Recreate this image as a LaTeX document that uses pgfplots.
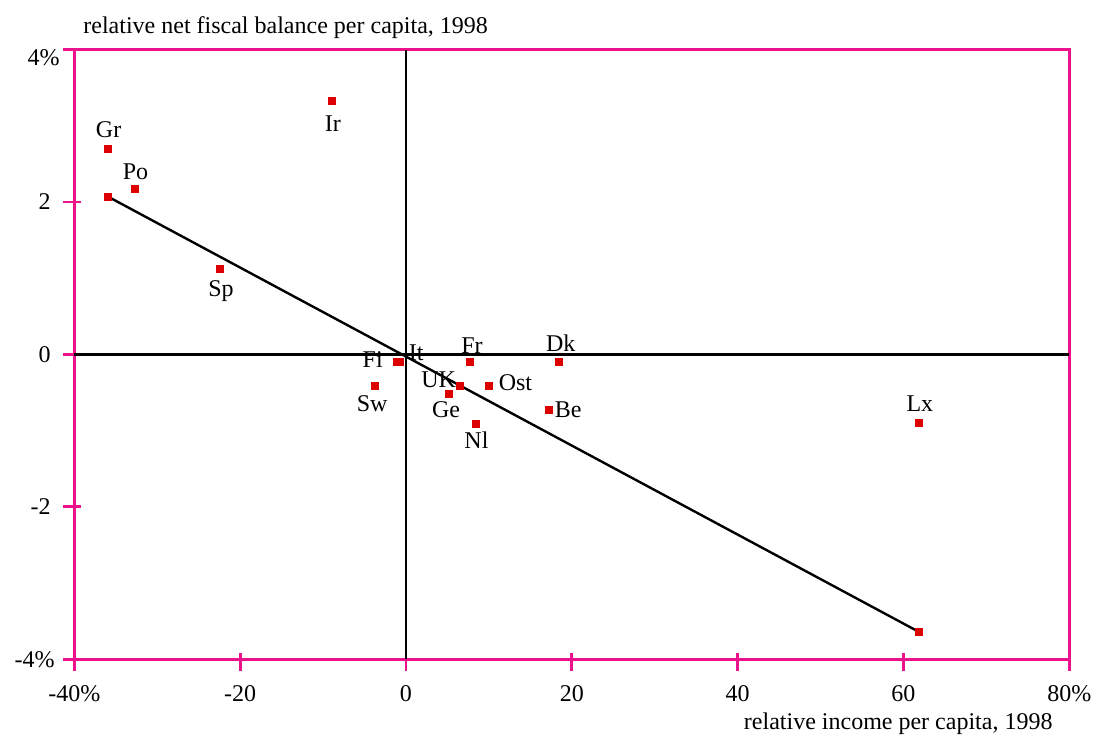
\documentclass[border=0pt]{standalone}
\usepackage{pgfplots}
\pgfplotsset{compat=1.18}
\usepackage{fontspec}
\setmainfont{Liberation Serif}

\definecolor{frame}{RGB}{236,18,140}
\definecolor{ptred}{RGB}{220,0,0}

% countries: relative income (x), relative net fiscal balance (y), label offsets in pt
\pgfplotstableread{
x      y      lab  dx     dy
-35.90  2.69  Gr    0.15  10.05
-32.70  2.17  Po    0.35   8.5
 -8.90  3.32  Ir    0.4  -11
-22.40  1.12  Sp    0.4  -11
 -1.15 -0.10  Fi  -11.85   1
 -0.78 -0.10  It    8.3    4.5
  7.75 -0.10  Fr    0.85   8.35
 18.45 -0.10  Dk    0.9    9.5
  6.47 -0.41  UK  -10.5    3.1
  5.22 -0.52  Ge   -1.6   -8
 10.05 -0.41  Ost  13.1    1.35
  8.44 -0.91  Nl    0.25  -8.3
 17.20 -0.73  Be    9.75   0.25
 -3.79 -0.41  Sw   -1.15  -9.1
 61.86 -0.90  Lx    0.5    9.75
}\countries

\begin{document}
\begin{tikzpicture}
\begin{axis}[
    scale only axis,
    width=497.5pt, height=304.9pt,
    xmin=-40, xmax=80, ymin=-4, ymax=4,
    clip=false,
    font=\fontsize{12}{14}\selectfont,
    axis line style={draw=frame, line width=1.4pt},
    tick pos=left,
    tick align=center,
    major tick length=9pt,
    major tick style={draw=frame, line width=1.4pt},
    xtick style={yshift=-1.5pt},
    ytick style={xshift=-1.1pt},
    xtick={-40,-20,0,20,40,60,80},
    xticklabels={\mbox{-40\%},\mbox{-20},\mbox{0},\mbox{20},\mbox{40},\mbox{60},\mbox{80\%}},
    ytick={-4,-2,0,2,4},
    yticklabels={\mbox{-4\%\hspace{-2pt}},\mbox{-2},\mbox{0},\mbox{2},
        \mbox{\raisebox{-4pt}[\height][\depth]{4\%}\hspace{-4.5pt}}},
    tick label style={font=\fontsize{12}{14}\selectfont},
    xticklabel style={anchor=north, inner sep=0pt, yshift=-8.5pt},
    yticklabel style={anchor=east, inner sep=0pt, xshift=-7.15pt},
]
\coordinate (o) at (rel axis cs:0,0);

% zero lines
\addplot[black, line width=1.1pt] coordinates {(-40,0) (80,0)};
\addplot[black, line width=1.2pt] coordinates {(0,-4) (0,4)};

% fitted line
\addplot[black, line width=1.2pt, mark=square*, mark size=1.75pt,
    mark options={draw=ptred, fill=ptred, line width=0pt}]
    coordinates {(-35.94,2.07) (61.86,-3.64)};

% countries
\addplot[only marks, mark=square*, mark size=1.75pt, draw=ptred, fill=ptred,
    point meta=explicit symbolic,
    nodes near coords,
    visualization depends on={\thisrow{dx}\as\dx},
    visualization depends on={\thisrow{dy}\as\dy},
    every node near coord/.append style={anchor=center, inner sep=0pt,
        xshift=\dx, yshift=\dy, text=black,
        font=\fontsize{12}{14}\selectfont},
] table[x=x, y=y, meta=lab] {\countries};

\node[anchor=base west, inner sep=0pt, font=\fontsize{12}{14}\selectfont]
    at ([xshift=4.35pt, yshift=8.25pt]rel axis cs:0,1)
    {relative net fiscal balance per capita, 1998};
\node[anchor=base east, inner sep=0pt, font=\fontsize{12}{14}\selectfont]
    at ([xshift=-8.2pt, yshift=-35.3pt]rel axis cs:1,0)
    {relative income per capita, 1998};
\end{axis}
\pgfresetboundingbox
\path[use as bounding box] (o) ++(-37.15pt,-37.85pt) rectangle ++(549pt,367.5pt);
\end{tikzpicture}
\end{document}
